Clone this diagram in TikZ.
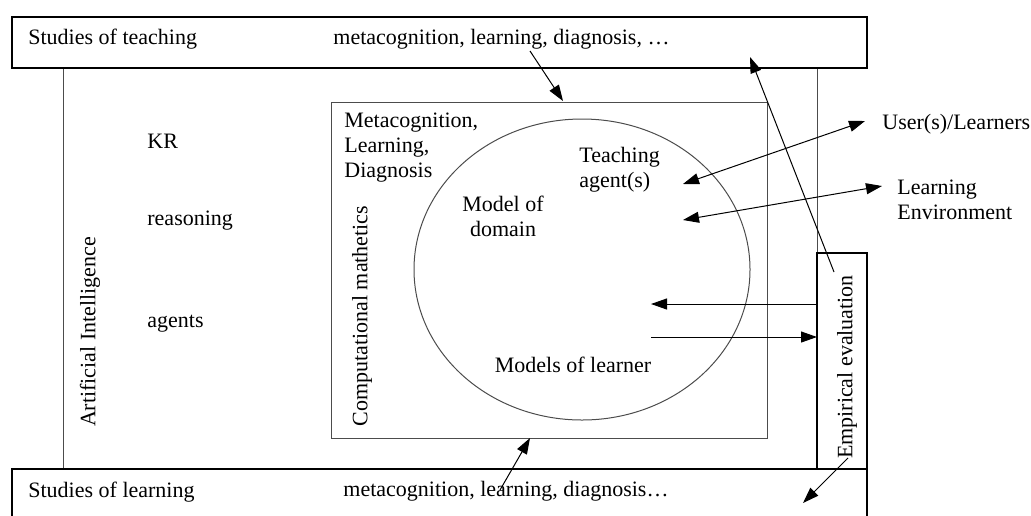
\documentclass[tikz,border=0pt]{standalone}
\usepackage{fontspec}
\setmainfont{Liberation Serif}
\usetikzlibrary{arrows.meta}

\begin{document}
\begin{tikzpicture}[x=0.5pt,y=-0.5pt,
  every node/.style={font=\fontsize{11}{12.5}\selectfont, inner sep=0pt},
  heavybox/.style={line width=1pt},
  lightline/.style={line width=0.5pt, black!70},
  onetip/.style={line width=0.5pt, -{Triangle[length=8pt,width=5.5pt]}},
  twotips/.style={line width=0.5pt, {Triangle[length=8pt,width=5.5pt]}-{Triangle[length=8pt,width=5.5pt]}}]
\useasboundingbox (0,0) rectangle (1031,515);
\clip (0,0) rectangle (1031,515);

% outer frame
\draw[lightline] (63,68) -- (63,469);
\draw[lightline] (817,68) -- (817,253);
\draw[heavybox] (12,17) rectangle (867,68);
\draw[heavybox] (12,530) -- (12,469) -- (867,469) -- (867,530);
\draw[heavybox] (817,253) rectangle (867,469);

% inner box and circle
\draw[lightline] (331,102) rectangle (767,438);
\draw[lightline] (582,269.5) ellipse [x radius=168, y radius=150.5];

% labels (multi-line ones sit on their last baseline)
\node[anchor=base west] (teachst) at (28,44) {Studies of teaching};
\node[anchor=base west] (teachmeta) at (333,44) {metacognition, learning, diagnosis, …};
\node[anchor=base west] (learnst) at (28,497) {Studies of learning};
\node[anchor=base west] (learnmeta) at (343,496) {metacognition, learning, diagnosis…};
\node[rotate=90] (ai) at (90,332) {Artificial Intelligence};
\node[anchor=base west] (kr) at (147,148) {KR};
\node[anchor=base west] (reason) at (147,225) {reasoning};
\node[anchor=base west] (agents) at (147,327) {agents};
\node[anchor=base west, align=left] (metabox) at (344,177) {Metacognition,\\Learning,\\Diagnosis};
\node[rotate=90] (compmath) at (362,316) {Computational mathetics};
\node[anchor=base west, align=left] (teachag) at (579,187) {Teaching\\agent(s)};
\node[anchor=base, align=center] (domain) at (503,236) {Model of\\domain};
\node[anchor=base] (learner) at (573,372) {Models of learner};
\node[rotate=90] (empir) at (847,367) {Empirical evaluation};
\node[anchor=base west] (users) at (882,129) {User(s)/Learners};
\node[anchor=base west, align=left] (envir) at (897,219) {Learning\\Environment};

% arrow ends
\coordinate (topfrom) at (530,51);
\coordinate (topto) at (563,101);
\coordinate (botfrom) at (500,490);
\coordinate (botto) at (530,438);
\coordinate (agin) at (683,184);
\coordinate (agout) at (865,121);
\coordinate (envin) at (683,220);
\coordinate (envout) at (882,186);
\coordinate (evleft) at (817,304);
\coordinate (evback) at (651,304);
\coordinate (evgo) at (651,337);
\coordinate (evright) at (817,337);
\coordinate (evtop) at (834,272);
\coordinate (evtoptip) at (750,57);
\coordinate (evbot) at (848,458);
\coordinate (evbottip) at (803,503);

% arrows
\draw[onetip] (topfrom) -- (topto);
\draw[onetip] (botfrom) -- (botto);
\draw[twotips] (agin) -- (agout);
\draw[twotips] (envin) -- (envout);
\draw[onetip] (evleft) -- (evback);
\draw[onetip] (evgo) -- (evright);
\draw[onetip] (evtop) -- (evtoptip);
\draw[onetip] (evbot) -- (evbottip);
\end{tikzpicture}
\end{document}
